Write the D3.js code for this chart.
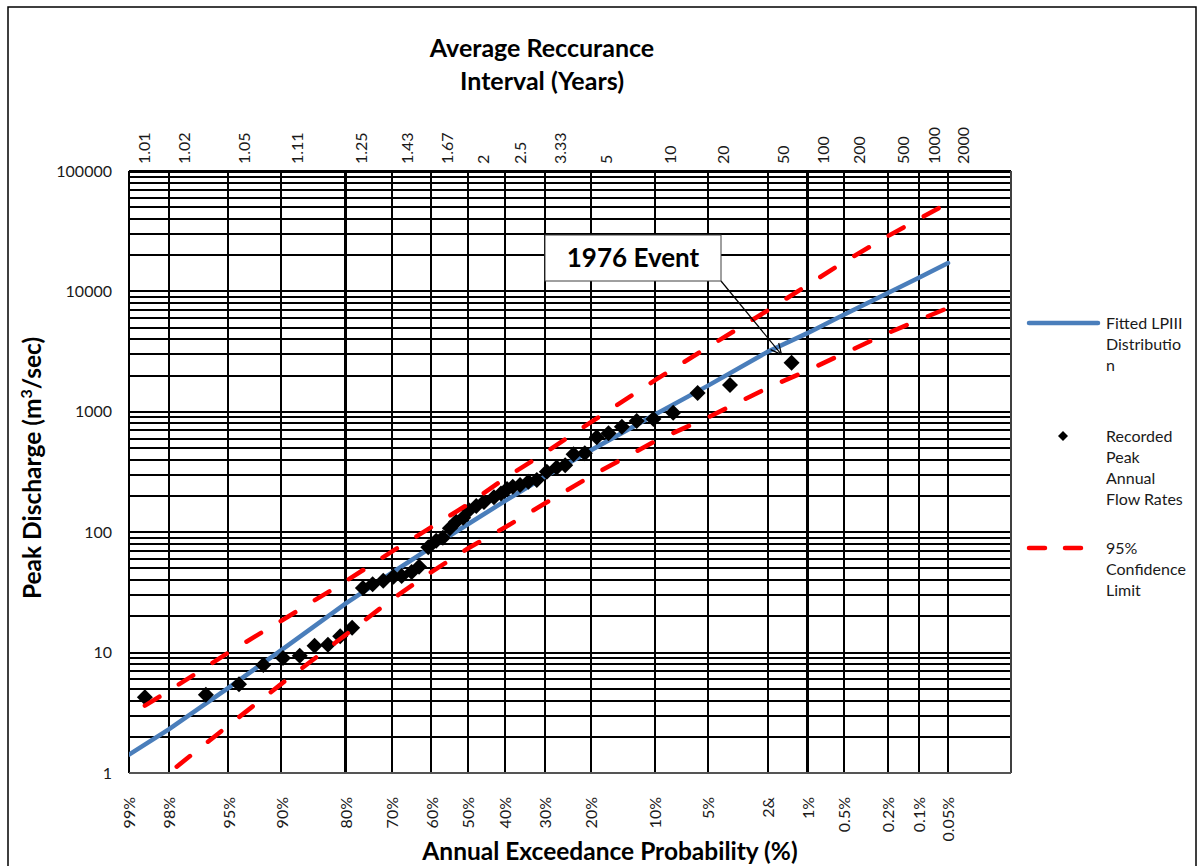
<!DOCTYPE html>
<html><head><meta charset="utf-8">
<script src="https://cdn.jsdelivr.net/npm/d3@7"></script>
<style>
body{margin:0;background:#fff}
svg{display:block}
text{font-family:Lato,"Open Sans",sans-serif}
</style>
</head><body>
<svg id="chart" width="1202" height="866"></svg>
<script>
// ---------------- data ----------------
const gridProbs = [99,98,95,90,80,70,60,50,40,30,20,10,5,2,1,0.5,0.2,0.1,0.05];
const probLabels = ["99%","98%","95%","90%","80%","70%","60%","50%","40%","30%","20%","10%","5%","2&","1%","0.5%","0.2%","0.1%","0.05%"];
const intervalLabels = ["1.01","1.02","1.05","1.11","1.25","1.43","1.67","2","2.5","3.33","5","10","20","50","100","200","500","1000","2000"];
const yTicks = [1,10,100,1000,10000,100000];
const xDomainProbs = [99, 0.01];

const fitProbs = [99,98,95,90,80,70,60,50,40,30,20,10,5,2,1,0.5,0.2,0.1,0.05];
const fitValues = [1.42,2.3,5.1,10.5,25.5,46,75,117,182,289,480,950,1650,3150,4500,6400,9700,13000,17200];

const ciProbs = [98.67,98,95,90,80,70,60,50,40,30,20,10,5,2,1,0.5,0.2,0.1,0.05];
const upperValues = [3.63,4.8,10.0,18.4,39,69,110,171,281,455,820,1830,3450,6940,11270,17500,28800,39900,54200];
const lowerValues = [0.71,1.0,2.48,5.5,14.0,27.6,46.7,73.5,110,173,292,570,900,1580,2200,3050,4510,5790,7280];

const obsProbs = [1.33,3.63,5.78,7.99,10.2,12.4,14.6,16.8,18.9,21.2,23.5,25.3,27.2,29.5,31.9,34.0,36.1,38.0,39.5,41.1,43.0,45.7,47.8,49.8,51.4,53.3,55.0,56.9,58.7,60.8,63.2,65.1,67.6,69.6,72.0,74.4,76.5,78.7,81.0,83.2,85.4,87.6,89.8,92.0,94.2,96.4,98.67];
const obsValues = [2560,1670,1430,980,870,840,752,663,614,452,444,360,345,318,272,263,247,238,228,210,195,178,165,152,132,122,108,90,85,75,51.7,46.8,43.3,42.7,39.5,36.9,34.4,16.1,13.7,11.6,11.4,9.43,9.02,7.89,5.46,4.47,4.25];

// ---------------- helpers ----------------
function qnorm(p){
  const a=[-3.969683028665376e+01,2.209460984245205e+02,-2.759285104469687e+02,1.383577518672690e+02,-3.066479806614716e+01,2.506628277459239e+00];
  const b=[-5.447609879822406e+01,1.615858368580409e+02,-1.556989798598866e+02,6.680131188771972e+01,-1.328068155288572e+01];
  const c=[-7.784894002430293e-03,-3.223964580411365e-01,-2.400758277161838e+00,-2.549732539343734e+00,4.374664141464968e+00,2.938163982698783e+00];
  const d=[7.784695709041462e-03,3.224671290700398e-01,2.445134137142996e+00,3.754408661907416e+00];
  const pl=0.02425, ph=1-pl; let q,r;
  if(p<pl){q=Math.sqrt(-2*Math.log(p));return (((((c[0]*q+c[1])*q+c[2])*q+c[3])*q+c[4])*q+c[5])/((((d[0]*q+d[1])*q+d[2])*q+d[3])*q+1);}
  if(p<=ph){q=p-0.5;r=q*q;return (((((a[0]*r+a[1])*r+a[2])*r+a[3])*r+a[4])*r+a[5])*q/(((((b[0]*r+b[1])*r+b[2])*r+b[3])*r+b[4])*r+1);}
  q=Math.sqrt(-2*Math.log(1-p));return -(((((c[0]*q+c[1])*q+c[2])*q+c[3])*q+c[4])*q+c[5])/((((d[0]*q+d[1])*q+d[2])*q+d[3])*q+1);
}
const zOf = pct => qnorm(1 - pct/100);

// ---------------- layout ----------------
const L = 129, R = 1010.5, T = 171, B = 773;
const x = d3.scaleLinear().domain(xDomainProbs.map(zOf)).range([L, R]);
const y = d3.scaleLog().domain([1, 100000]).range([B, T]);
const px = p => x(zOf(p));

const svg = d3.select("#chart");
svg.append("rect").attr("width",1202).attr("height",866).attr("fill","#fff");
svg.append("rect").attr("x",8).attr("y",7).attr("width",1188).attr("height",900)
  .attr("fill","none").attr("stroke","#000").attr("stroke-width",1.5);

// grid
const grid = svg.append("g").attr("shape-rendering","crispEdges");
const minorVals = [];
for (let k=0;k<5;k++) for (let m=1;m<10;m++) minorVals.push(m*Math.pow(10,k));
minorVals.push(100000);
grid.selectAll("line.h").data(minorVals).join("line")
  .attr("x1",L).attr("x2",R).attr("y1",d=>y(d)).attr("y2",d=>y(d))
  .attr("stroke","#000").attr("stroke-width",d=>d===100000?3:2);
grid.selectAll("line.v").data(gridProbs).join("line")
  .attr("x1",d=>px(d)).attr("x2",d=>px(d)).attr("y1",T).attr("y2",B)
  .attr("stroke","#000").attr("stroke-width",2.2);
grid.append("line").attr("x1",L).attr("x2",L).attr("y1",T).attr("y2",B).attr("stroke","#000").attr("stroke-width",2.5);
grid.append("line").attr("x1",R).attr("x2",R).attr("y1",T).attr("y2",B).attr("stroke","#404040").attr("stroke-width",2);
grid.append("line").attr("x1",L).attr("x2",R).attr("y1",B).attr("y2",B).attr("stroke","#555").attr("stroke-width",2.5);

// axes
const yAxis = svg.append("g").attr("transform",`translate(${L},0)`)
  .call(d3.axisLeft(y).tickValues(yTicks).tickFormat(d3.format("d")).tickSize(0).tickPadding(17));
yAxis.select(".domain").remove();
yAxis.selectAll("text").attr("font-size",16).attr("fill","#1a1a1a").attr("font-family","Lato");

const xb = svg.append("g").attr("transform",`translate(0,${B})`)
  .call(d3.axisBottom(x).tickValues(gridProbs.map(zOf)).tickFormat((d,i)=>probLabels[i]).tickSize(0));
xb.select(".domain").remove();
xb.selectAll("text").attr("font-size",16).attr("fill","#1a1a1a").attr("font-family","Lato")
  .attr("transform","rotate(-90)").attr("x",-24).attr("y",0).attr("dy","0.36em").attr("text-anchor","end");

const xt = svg.append("g").attr("transform",`translate(0,${T})`)
  .call(d3.axisTop(x).tickValues(gridProbs.map(zOf)).tickFormat((d,i)=>intervalLabels[i]).tickSize(0));
xt.select(".domain").remove();
xt.selectAll("text").attr("font-size",16).attr("fill","#1a1a1a").attr("font-family","Lato")
  .attr("transform","rotate(-90)").attr("x",7).attr("y",15).attr("dy","0.36em").attr("text-anchor","start");

// clip
svg.append("clipPath").attr("id","plotclip").append("rect").attr("x",L).attr("y",T).attr("width",R-L).attr("height",B-T);
const plot = svg.append("g").attr("clip-path","url(#plotclip)");

const line = d3.line().x(d=>px(d[0])).y(d=>y(d[1]));
plot.append("path").datum(fitProbs.map((p,i)=>[p,fitValues[i]])).attr("d",line)
  .attr("fill","none").attr("stroke","#4a7ebb").attr("stroke-width",4.5).attr("stroke-linecap","round");

const diamond = s => `M0,${-s}L${s},0L0,${s}L${-s},0Z`;
plot.selectAll("path.obs").data(obsProbs.map((p,i)=>[p,obsValues[i]])).join("path")
  .attr("d",diamond(8)).attr("transform",d=>`translate(${px(d[0])},${y(d[1])})`).attr("fill","#000");

[upperValues, lowerValues].forEach(vals=>{
  plot.append("path").datum(ciProbs.map((p,i)=>[p,vals[i]])).attr("d",line)
    .attr("fill","none").attr("stroke","#ff0000").attr("stroke-width",4.5)
    .attr("stroke-linecap","round").attr("stroke-dasharray","17,23");
});

// annotation
const ann = svg.append("g");
const tipX = px(obsProbs[0]) - 10, tipY = y(obsValues[0]) - 8;
const bx = 545, by = 235, bw = 176, bh = 46;
ann.append("line").attr("x1",bx+bw).attr("y1",by+bh).attr("x2",tipX).attr("y2",tipY).attr("stroke","#000").attr("stroke-width",1.2);
const ang = Math.atan2(tipY-(by+bh), tipX-(bx+bw));
[-0.45,0.45].forEach(da=>{
  ann.append("line").attr("x1",tipX).attr("y1",tipY)
    .attr("x2",tipX-12*Math.cos(ang+da)).attr("y2",tipY-12*Math.sin(ang+da))
    .attr("stroke","#000").attr("stroke-width",1.2);
});
ann.append("rect").attr("x",bx).attr("y",by).attr("width",bw).attr("height",bh)
  .attr("fill","#fff").attr("stroke","#404040").attr("stroke-width",1);
ann.append("text").attr("x",bx+bw/2).attr("y",by+bh/2+9).attr("text-anchor","middle")
  .attr("font-size",26).attr("font-weight","bold").text("1976 Event");

// titles
const title = svg.append("text").attr("text-anchor","middle").attr("font-size",25).attr("font-weight","bold");
title.append("tspan").attr("x",542).attr("y",57).text("Average Reccurance");
title.append("tspan").attr("x",542).attr("y",90).text("Interval (Years)");

svg.append("text").attr("x",610).attr("y",860).attr("text-anchor","middle").attr("font-size",24.5)
  .attr("font-weight","bold").text("Annual Exceedance Probability (%)");

const yt = svg.append("text").attr("transform","translate(41,468) rotate(-90)").attr("text-anchor","middle")
  .attr("font-size",24.5).attr("font-weight","bold");
yt.append("tspan").text("Peak Discharge (m");
yt.append("tspan").attr("dy",-9).attr("font-size",16).text("3");
yt.append("tspan").attr("dy",9).text("/sec)");

// legend
const lg = svg.append("g").attr("font-size",16).attr("fill","#1a1a1a");
const lh = 21.2;
lg.append("line").attr("x1",1029).attr("x2",1098).attr("y1",323).attr("y2",323)
  .attr("stroke","#4a7ebb").attr("stroke-width",4.5).attr("stroke-linecap","round");
["Fitted LPIII","Distributio","n"].forEach((t,i)=>lg.append("text").attr("x",1106).attr("y",323+i*lh).attr("dy","0.36em").text(t));
lg.append("path").attr("d",diamond(5)).attr("transform","translate(1063,436)").attr("fill","#000");
["Recorded","Peak","Annual","Flow Rates"].forEach((t,i)=>lg.append("text").attr("x",1106).attr("y",436+i*lh).attr("dy","0.36em").text(t));
lg.append("line").attr("x1",1029).attr("x2",1090).attr("y1",548).attr("y2",548)
  .attr("stroke","#ff0000").attr("stroke-width",4.5).attr("stroke-linecap","round").attr("stroke-dasharray","16,20");
["95%","Confidence","Limit"].forEach((t,i)=>lg.append("text").attr("x",1106).attr("y",548+i*lh).attr("dy","0.36em").text(t));
</script>
</body></html>
